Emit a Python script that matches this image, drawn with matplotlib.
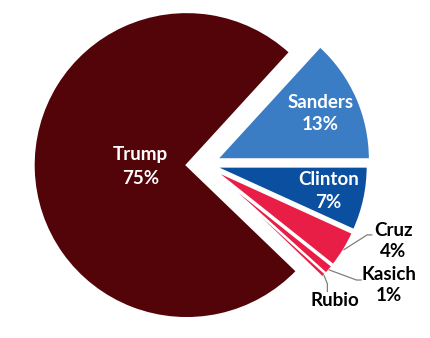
import matplotlib.pyplot as plt
import numpy as np

plt.rcParams['font.family'] = ['Lato', 'DejaVu Sans']

candidates = ['Trump', 'Sanders', 'Clinton', 'Cruz', 'Kasich', 'Rubio']
shares = [74.6, 13.2, 6.8, 3.9, 1.0, 0.5]
show_pct = [True, True, True, True, True, False]
colors = ['#520408', '#3A7DC4', '#0B50A0', '#E81E46', '#E81E46', '#E81E46']
explode = [0.12, 0.085, 0.065, 0.065, 0.065, 0.065]

# label placement: inside labels by radius from wedge centre, outside ones by elbow/text points
inside_r = {'Trump': 0.30, 'Sanders': 0.74, 'Clinton': 0.76}
outside = {
    'Cruz': ((1.06, -0.46), (1.09, -0.46), (1.23, -0.50)),
    'Kasich': ((0.99, -0.755), (1.02, -0.755), (1.20, -0.79)),
    'Rubio': ((0.80, -0.78), (0.80, -0.83), (0.85, -0.89)),
}

fig = plt.figure(figsize=(4.31, 3.38), dpi=100)
ax = fig.add_axes([0, 0, 1, 1])

total = sum(shares)
start = 360 * (shares[0] + shares[1]) / total
wedges, _ = ax.pie(shares, colors=colors, explode=explode, startangle=start,
                   counterclock=False, radius=1,
                   wedgeprops=dict(edgecolor='white', linewidth=1.5))

R = 153.0  # pixels per unit radius
ax.set_xlim(-205 / R, (431 - 205) / R)
ax.set_ylim(-(338 - 164.5) / R, 164.5 / R)
ax.set_aspect('equal')
ax.axis('off')

for w, name, v, pct, ex in zip(wedges, candidates, shares, show_pct, explode):
    mid = np.deg2rad((w.theta1 + w.theta2) / 2)
    d = np.array([np.cos(mid), np.sin(mid)])
    txt = f"{name}\n{v / total * 100:.0f}%" if pct else name
    if name in inside_r:
        x, y = (ex + inside_r[name]) * d
        ls = 1.5 if name == 'Trump' else 1.4
        ax.text(x, y, txt, color='white', fontsize=13.5, fontweight='bold',
                ha='center', va='center', linespacing=ls)
    else:
        p0 = (1 + ex) * d
        (ex1, ey1), (ex2, ey2), (tx, ty) = outside[name]
        ax.plot([p0[0], ex1, ex2], [p0[1], ey1, ey2], color='#7F7F7F', lw=0.9)
        ax.text(tx, ty, txt, color='black', fontsize=13.5, fontweight='bold',
                ha='center', va='center', linespacing=1.3)

fig.savefig('out.png', dpi=100)
